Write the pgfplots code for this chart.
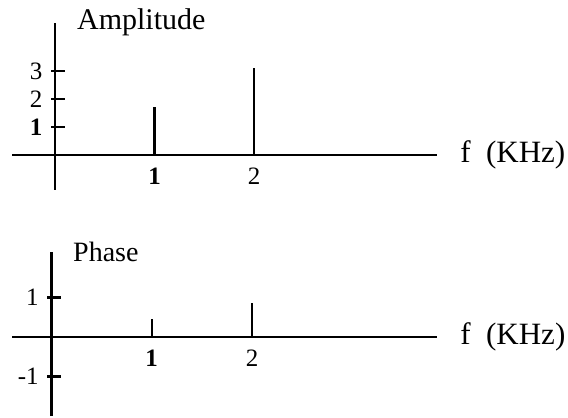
\documentclass[border=0pt]{standalone}
\usepackage{fontspec}
\setmainfont{Liberation Serif}
\usepackage{pgfplots}
\pgfplotsset{compat=1.18}

\newcommand\ts{\fontsize{25bp}{29bp}\selectfont}
\newcommand\unitlabel{\fontsize{31bp}{36bp}\selectfont}

\pgfplotsset{
  spectrum/.style={
    axis lines=middle,
    axis line style={-, line width=2.8bp},
    every inner x axis line/.append style={-},
    every inner y axis line/.append style={-},
    clip=false,
    tick align=inside,
    major tick length=14bp,
    xtick style={draw=none},
    ytick style={line width=2.4bp, black, xshift=-4bp},
    xticklabel style={yshift=-9bp},
    yticklabel style={xshift=-9bp},
    anchor=origin,
  },
  spike/.style={ycomb, line width=2.4bp, black, no markers},
}

\begin{document}
\begin{tikzpicture}[x=1bp,y=1bp]
\path (0,0) rectangle (568,417);

% Amplitude spectrum
\begin{axis}[spectrum,
  at={(55bp,262bp)},
  x=99.5bp, y=28bp,
  xmin=-0.43, xmax=3.84, ymin=-1.25, ymax=4.71,
  xtick={1,2}, xticklabels={{\ts\textbf{1}},{\ts 2}},
  ytick={1,2,3}, yticklabels={{\ts\textbf{1}},{\ts 2},{\ts 3}},
]
\addplot[spike] coordinates {(1,1.7) (2,3.1)};
\node[anchor=base west, inner sep=0, font=\fontsize{30bp}{36bp}\selectfont]
  at (axis cs:0.22,4.49) {Amplitude};
\node[anchor=west, inner sep=0, font=\unitlabel]
  at (axis cs:3.84,0) {\hspace{23bp}f\hspace{0.5em}(KHz)};
\end{axis}

% Phase spectrum
\begin{axis}[spectrum,
  at={(51.2bp,80bp)},
  x=100.5bp, y=39.5bp,
  xmin=-0.39, xmax=3.84, ymin=-2.0, ymax=2.15,
  xtick={1,2}, xticklabels={{\ts\textbf{1}},{\ts 2}},
  ytick={-1,1}, yticklabels={{\ts -1},{\ts 1}},
]
\addplot[spike] coordinates {(1,0.45) (2,0.85)};
\node[anchor=base west, inner sep=0, font=\fontsize{28bp}{34bp}\selectfont]
  at (axis cs:0.217,1.90) {Phase};
\node[anchor=west, inner sep=0, font=\unitlabel]
  at (axis cs:3.84,0) {\hspace{23bp}f\hspace{0.5em}(KHz)};
\end{axis}
\end{tikzpicture}
\end{document}
